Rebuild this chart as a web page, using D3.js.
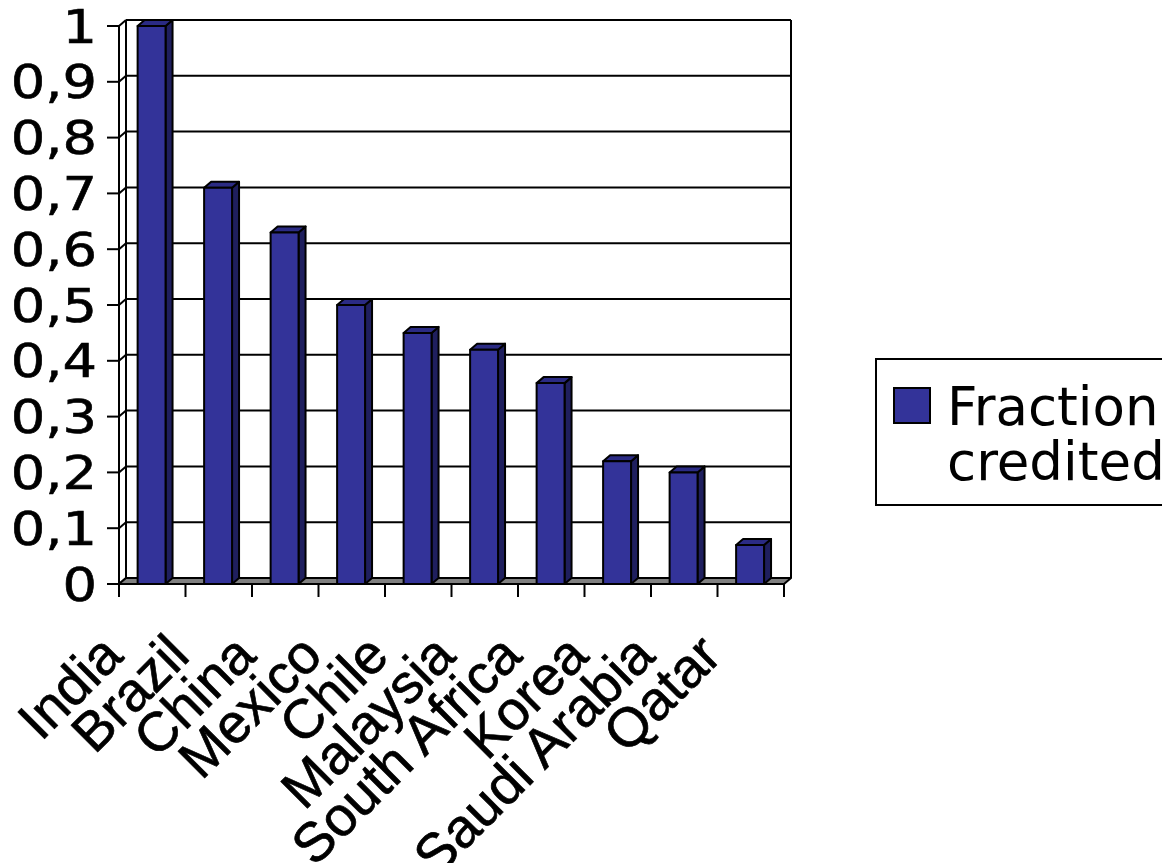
<!DOCTYPE html>
<html>
<head>
<meta charset="utf-8">
<script src="https://cdn.jsdelivr.net/npm/d3@7"></script>
<style>
  body { margin: 0; background: #fff; }
</style>
</head>
<body>
<svg id="chart" width="1162" height="863"></svg>
<script>
// chart data
const countries = ['India', 'Brazil', 'China', 'Mexico', 'Chile', 'Malaysia',
  'South Africa', 'Korea', 'Saudi Arabia', 'Qatar'];
const fraction = [1, 0.71, 0.63, 0.5, 0.45, 0.42, 0.36, 0.22, 0.2, 0.07];
const yTicks = [0, 0.1, 0.2, 0.3, 0.4, 0.5, 0.6, 0.7, 0.8, 0.9, 1];
const legendLines = ['Fraction', 'credited'];

const svg = d3.select('#chart');

// 3d depth offsets
const dx = 7;
const dy = -6;

const x = d3.scaleBand().domain(countries).range([119, 784]).padding(0);
const y = d3.scaleLinear().domain([0, 1]).range([584, 26]);
const x0 = x.range()[0];
const x1 = x.range()[1];
const fmt = (v) => String(v).replace('.', ',');

const barColor = '#333399';
const sideColor = '#1f1f5e';
const topColor = '#2b2b84';

// back wall gridlines
svg.append('g')
  .selectAll('line')
  .data(yTicks.filter((v) => v > 0))
  .join('line')
    .attr('x1', x0 + dx)
    .attr('x2', x1 + dx)
    .attr('y1', (d) => y(d) + dy)
    .attr('y2', (d) => y(d) + dy)
    .attr('stroke', '#000')
    .attr('stroke-width', 2);

// back wall right edge
svg.append('line')
  .attr('x1', x1 + dx).attr('x2', x1 + dx)
  .attr('y1', y(1) + dy).attr('y2', y(0) + dy)
  .attr('stroke', '#000').attr('stroke-width', 2);

// left wall
svg.append('line')
  .attr('x1', x0 + dx).attr('x2', x0 + dx)
  .attr('y1', y(1) + dy).attr('y2', y(0) + dy)
  .attr('stroke', '#000').attr('stroke-width', 2);
svg.append('g')
  .selectAll('line')
  .data(yTicks)
  .join('line')
    .attr('x1', x0)
    .attr('x2', x0 + dx)
    .attr('y1', (d) => y(d))
    .attr('y2', (d) => y(d) + dy)
    .attr('stroke', '#000')
    .attr('stroke-width', 2);

// floor
svg.append('path')
  .attr('d', `M${x0},${y(0)}L${x1},${y(0)}L${x1 + dx},${y(0) + dy}L${x0 + dx},${y(0) + dy}Z`)
  .attr('fill', '#808080')
  .attr('stroke', '#000')
  .attr('stroke-width', 2)
  .attr('stroke-linejoin', 'round');

// bars
const bw = x.bandwidth() * 0.42;
const boff = x.bandwidth() * 0.28;
const bars = svg.append('g')
  .selectAll('g')
  .data(countries.map((c, i) => ({ c, v: fraction[i] })))
  .join('g')
    .attr('stroke', '#000')
    .attr('stroke-width', 2)
    .attr('stroke-linejoin', 'round');

bars.append('path')
  .attr('fill', sideColor)
  .attr('d', (d) => {
    const xr = x(d.c) + boff + bw;
    return `M${xr},${y(d.v)}L${xr + dx},${y(d.v) + dy}L${xr + dx},${y(0) + dy}L${xr},${y(0)}Z`;
  });
bars.append('path')
  .attr('fill', topColor)
  .attr('d', (d) => {
    const xl = x(d.c) + boff;
    const xr = xl + bw;
    return `M${xl},${y(d.v)}L${xl + dx},${y(d.v) + dy}L${xr + dx},${y(d.v) + dy}L${xr},${y(d.v)}Z`;
  });
bars.append('rect')
  .attr('fill', barColor)
  .attr('x', (d) => x(d.c) + boff)
  .attr('y', (d) => y(d.v))
  .attr('width', bw)
  .attr('height', (d) => y(0) - y(d.v));

// y axis
svg.append('line')
  .attr('x1', x0).attr('x2', x0)
  .attr('y1', y(1)).attr('y2', y(0))
  .attr('stroke', '#000').attr('stroke-width', 2);
svg.append('g')
  .selectAll('line')
  .data(yTicks)
  .join('line')
    .attr('x1', x0 - 12)
    .attr('x2', x0)
    .attr('y1', (d) => y(d))
    .attr('y2', (d) => y(d))
    .attr('stroke', '#000')
    .attr('stroke-width', 2);
svg.append('g')
  .selectAll('text')
  .data(yTicks)
  .join('text')
    .attr('transform', (d) => `translate(97,${y(d)}) scale(1.18,1)`)
    .attr('text-anchor', 'end')
    .attr('dy', '0.36em')
    .attr('font-family', 'DejaVu Sans, sans-serif')
    .attr('font-size', 46)
    .attr('stroke', '#000')
    .attr('stroke-width', 0.6)
    .text(fmt);

// x axis
svg.append('line')
  .attr('x1', x0).attr('x2', x1)
  .attr('y1', y(0)).attr('y2', y(0))
  .attr('stroke', '#000').attr('stroke-width', 2);
svg.append('g')
  .selectAll('line')
  .data(d3.range(countries.length + 1))
  .join('line')
    .attr('x1', (i) => x0 + i * x.step())
    .attr('x2', (i) => x0 + i * x.step())
    .attr('y1', y(0))
    .attr('y2', y(0) + 13)
    .attr('stroke', '#000')
    .attr('stroke-width', 2);
svg.append('g')
  .selectAll('text')
  .data(countries)
  .join('text')
    .attr('transform', (d) => `translate(${x(d) + x.bandwidth() / 2 - 27},658) rotate(-45)`)
    .attr('text-anchor', 'end')
    .attr('font-family', 'Liberation Sans, Arial, sans-serif')
    .attr('font-size', 55)
    .attr('stroke', '#000')
    .attr('stroke-width', 0.7)
    .text((d) => d);

// legend
const legend = svg.append('g');
legend.append('rect')
  .attr('x', 876).attr('y', 359)
  .attr('width', 320).attr('height', 146)
  .attr('fill', '#fff')
  .attr('stroke', '#000')
  .attr('stroke-width', 2);
legend.append('rect')
  .attr('x', 894).attr('y', 388)
  .attr('width', 36).attr('height', 35)
  .attr('fill', barColor)
  .attr('stroke', '#000')
  .attr('stroke-width', 2);
legend.selectAll('text.lg')
  .data(legendLines)
  .join('text')
    .attr('class', 'lg')
    .attr('x', 947)
    .attr('y', (d, i) => 425 + i * 55)
    .attr('font-family', 'DejaVu Sans, sans-serif')
    .attr('font-size', 53)
    .text((d) => d);
</script>
</body>
</html>
